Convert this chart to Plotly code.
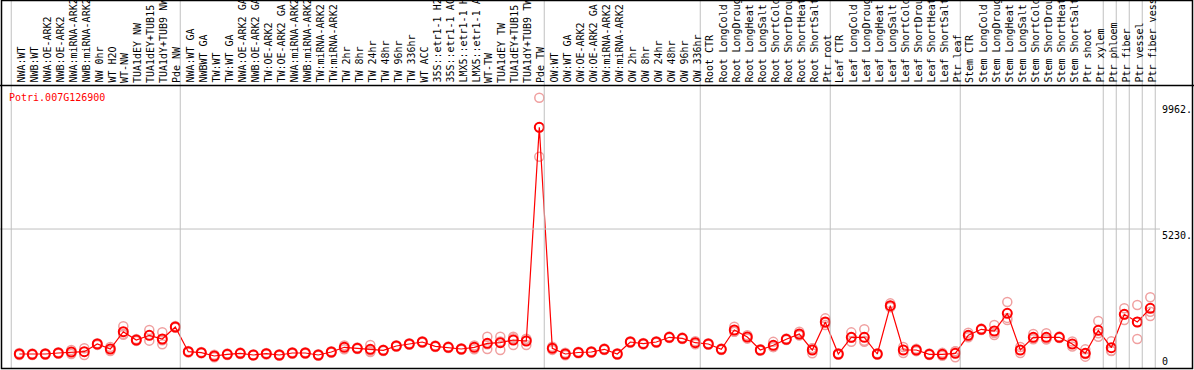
import plotly.graph_objects as go

# ---------------- data ----------------
g1_labels = ["NWA:WT", "NWB:WT", "NWA:OE-ARK2", "NWB:OE-ARK2", "NWA:miRNA-ARK2", "NWB:miRNA-ARK2",
             "NW 0hr", "WT H2O", "WT-NW", "TUA1dEY NW", "TUA1dEY+TUB15 NW", "TUA1dY+TUB9 NW", "Pde NW"]
g1_mean = [527, 516, 527, 564, 602, 613, 903, 715, 1366, 1054, 1230, 1091, 1543]
g1_reps = [[565, 489], [545, 487], [556, 498], [590, 538], [677, 527], [741, 485],
           [870, 936], [640, 790], [1568, 1280, 1250], [1020, 1088], [1430, 1030], [1343, 1040, 890], [1510, 1576]]

g2_labels = ["NWA:WT GA", "NWBWT GA", "TW:WT", "TW:WT GA", "NWA:OE-ARK2 GA", "NWB:OE-ARK2 GA",
             "TW:OE-ARK2", "TW:OE-ARK2 GA", "NWA:miRNA-ARK2", "NWB:miRNA-ARK2", "TW:miRNA-ARK2",
             "TW:miRNA-ARK2", "TW 2hr", "TW 8hr", "TW 24hr", "TW 48hr", "TW 96hr", "TW 336hr", "WT ACC",
             "35S::etr1-1 H2O", "35S::etr1-1 ACC", "LMX5::etr1-1 H2O", "LMX5::etr1-1 ACC", "WT-TW",
             "TUA1dEY TW", "TUA1dEY+TUB15 TW", "TUA1dY+TUB9 TW", "Pde TW"]
g2_mean = [613, 576, 452, 516, 553, 489, 538, 489, 564, 564, 489, 602, 779, 741, 704, 666, 828, 903,
           978, 817, 779, 715, 779, 929, 952, 1054, 1016, 9058]
g2_reps = [[640, 586], [600, 552], [500, 404], [545, 487], [580, 526], [470, 508], [565, 511], [515, 463],
           [590, 538], [591, 537], [460, 518], [630, 574], [850, 708], [770, 712], [865, 600, 647],
           [690, 642], [855, 801], [930, 876], [1005, 951], [845, 789], [806, 752], [742, 688], [850, 708],
           [1179, 715, 893], [1179, 677, 1000], [1179, 866, 1117], [866, 1100, 1082], [10170, 7950, 9054]]

g3_labels = ["OW:WT", "OW:WT GA", "OW:OE-ARK2", "OW:OE-ARK2 GA", "OW:miRNA-ARK2", "OW:miRNA-ARK2",
             "OW 2hr", "OW 8hr", "OW 24hr", "OW 48hr", "OW 96hr", "OW 336hr"]
g3_mean = [741, 527, 583, 602, 704, 527, 978, 914, 978, 1155, 1117, 952]
g3_reps = [[800, 682], [480, 574], [610, 556], [629, 575], [731, 677], [554, 500], [1005, 951],
           [941, 887], [1005, 951], [1182, 1128], [1144, 1090], [1010, 894]]

g4_labels = ["Root CTR", "Root LongCold", "Root LongDrought", "Root LongHeat", "Root LongSalt",
             "Root ShortCold", "Root ShortDrought", "Root ShortHeat", "Root ShortSalt", "Ptr root"]
g4_mean = [903, 704, 1430, 1167, 677, 854, 1080, 1279, 677, 1731]
g4_reps = [[930, 876], [731, 677], [1556, 1367, 1367], [1230, 1104], [704, 650], [984, 790, 788],
           [1107, 1053], [1367, 1235, 1235], [552, 740, 740], [1868, 1618, 1707]]

g5_labels = ["Leaf CTR", "Leaf LongCold", "Leaf LongDrought", "Leaf LongHeat", "Leaf LongSalt",
             "Leaf ShortCold", "Leaf ShortDrought", "Leaf ShortHeat", "Leaf ShortSalt", "Ptr leaf"]
g5_mean = [527, 1155, 1155, 527, 2344, 677, 677, 516, 516, 553]
g5_reps = [[554, 500], [1342, 984, 1140], [1455, 984, 1026], [554, 500], [2433, 2283, 2316],
           [790, 564], [720, 634], [543, 489], [570, 462], [402, 630, 627]]

g6_labels = ["Stem CTR", "Stem LongCold", "Stem LongDrought", "Stem LongHeat", "Stem LongSalt",
             "Stem ShortCold", "Stem ShortDrought", "Stem ShortHeat", "Stem ShortSalt", "Ptr shoot", "Ptr xylem"]
g6_mean = [1230, 1456, 1392, 2058, 677, 1155, 1155, 1155, 903, 553, 1419]
g6_reps = [[1331, 1155, 1204], [1483, 1429], [1618, 1242, 1316], [2483, 1806, 1885], [790, 564],
           [1280, 1080, 1105], [1305, 1080, 1080], [1182, 1128], [1000, 806], [702, 427, 530],
           [1769, 1179, 1309]]

g7_labels = ["Ptr phloem"]
g7_mean = [764]
g7_reps = [[1003, 652, 637]]
g8_labels = ["Ptr fiber"]
g8_mean = [2021]
g8_reps = [[2247, 1806, 2010]]
g9_labels = ["Ptr vessel"]
g9_mean = [1731]
g9_reps = [[2370, 1094, 1729]]
g10_labels = ["Ptr fiber vessel"]
g10_mean = [2247]
g10_reps = [[2660, 2119, 1956]]

gene_name = "Potri.007G126900"
scale_ticks = [9962, 5230, 0]
scale_text = ["9962.", "5230.", "0"]

# ---------------- assembly ----------------
groups_labels = [g1_labels, g2_labels, g3_labels, g4_labels, g5_labels, g6_labels,
                 g7_labels, g8_labels, g9_labels, g10_labels]
groups_mean = [g1_mean, g2_mean, g3_mean, g4_mean, g5_mean, g6_mean, g7_mean, g8_mean, g9_mean, g10_mean]
groups_reps = [g1_reps, g2_reps, g3_reps, g4_reps, g5_reps, g6_reps, g7_reps, g8_reps, g9_reps, g10_reps]

labels = [l for g in groups_labels for l in g]
means = [v for g in groups_mean for v in g]
reps = [r for g in groups_reps for r in g]
xs = list(range(len(labels)))

W, H = 1194, 370
PX0, DX = 19.3, 13.0          # pixel of first sample, pixel step
Y0PX, UPP = 368.0, 37.63      # pixel of zero, value units per pixel

xr = [(0 - PX0) / DX, (W - PX0) / DX]
yr = [(Y0PX - H) * UPP, Y0PX * UPP]

def py2paper(p):
    return 1 - p / H

rx = [i for i, r in zip(xs, reps) for _ in r]
ry = [v for r in reps for v in r]

fig = go.Figure()
fig.add_trace(go.Scatter(x=rx, y=ry, mode="markers",
                         marker=dict(symbol="circle-open", size=9, color="#F0A0A0", line=dict(width=1.5)),
                         hoverinfo="skip", showlegend=False, cliponaxis=False))
fig.add_trace(go.Scatter(x=xs, y=means, mode="lines+markers",
                         line=dict(color="#FF0000", width=1.2),
                         marker=dict(symbol="circle-open", size=9, color="#FF0000", line=dict(width=2)),
                         hoverinfo="skip", showlegend=False, cliponaxis=False))

shapes = []
start = 0
bounds = [start - 0.62]
for g in groups_labels:
    start += len(g)
    bounds.append(start - 0.62)
for b in bounds:
    shapes.append(dict(type="line", xref="x", yref="paper", x0=b, x1=b, y0=py2paper(368), y1=1,
                       line=dict(color="#C0C0C0", width=1)))
shapes.append(dict(type="line", xref="paper", yref="y", x0=0, x1=1160 / W, y0=scale_ticks[1], y1=scale_ticks[1],
                   line=dict(color="#C0C0C0", width=1)))
shapes.append(dict(type="line", xref="paper", yref="paper", x0=0, x1=1, y0=py2paper(85.5), y1=py2paper(85.5),
                   line=dict(color="black", width=1.5)))
shapes.append(dict(type="rect", xref="paper", yref="paper", x0=1.5 / W, x1=1192.5 / W,
                   y0=py2paper(368.5), y1=py2paper(0.5), line=dict(color="black", width=1.5)))

annotations = []
for i, lab in zip(xs, labels):
    annotations.append(dict(x=i + 0.1, y=py2paper(84), xref="x", yref="paper", text=lab,
                            textangle=-90, xanchor="center", yanchor="bottom", showarrow=False,
                            borderpad=0, font=dict(family="DejaVu Sans Mono", size=10, color="black")))
annotations.append(dict(x=8 / W, y=py2paper(97), xref="paper", yref="paper", text=gene_name,
                        xanchor="left", yanchor="middle", showarrow=False, borderpad=0,
                        font=dict(family="DejaVu Sans Mono", size=10, color="#FF0000")))
for v, t in zip(scale_ticks, scale_text):
    annotations.append(dict(x=1161 / W, y=v, xref="paper", yref="y", text=t,
                            xanchor="left", yanchor="top" if v > 0 else "bottom", showarrow=False,
                            borderpad=0, font=dict(family="DejaVu Sans Mono", size=10, color="black")))

fig.update_layout(width=W, height=H, margin=dict(l=0, r=0, t=0, b=0),
                  paper_bgcolor="white", plot_bgcolor="white",
                  xaxis=dict(range=xr, visible=False, fixedrange=True),
                  yaxis=dict(range=yr, visible=False, fixedrange=True),
                  shapes=shapes, annotations=annotations)

fig.write_html("out.html", config={"displayModeBar": False},
               post_script="document.body.style.margin='0';document.body.style.overflow='hidden';")
